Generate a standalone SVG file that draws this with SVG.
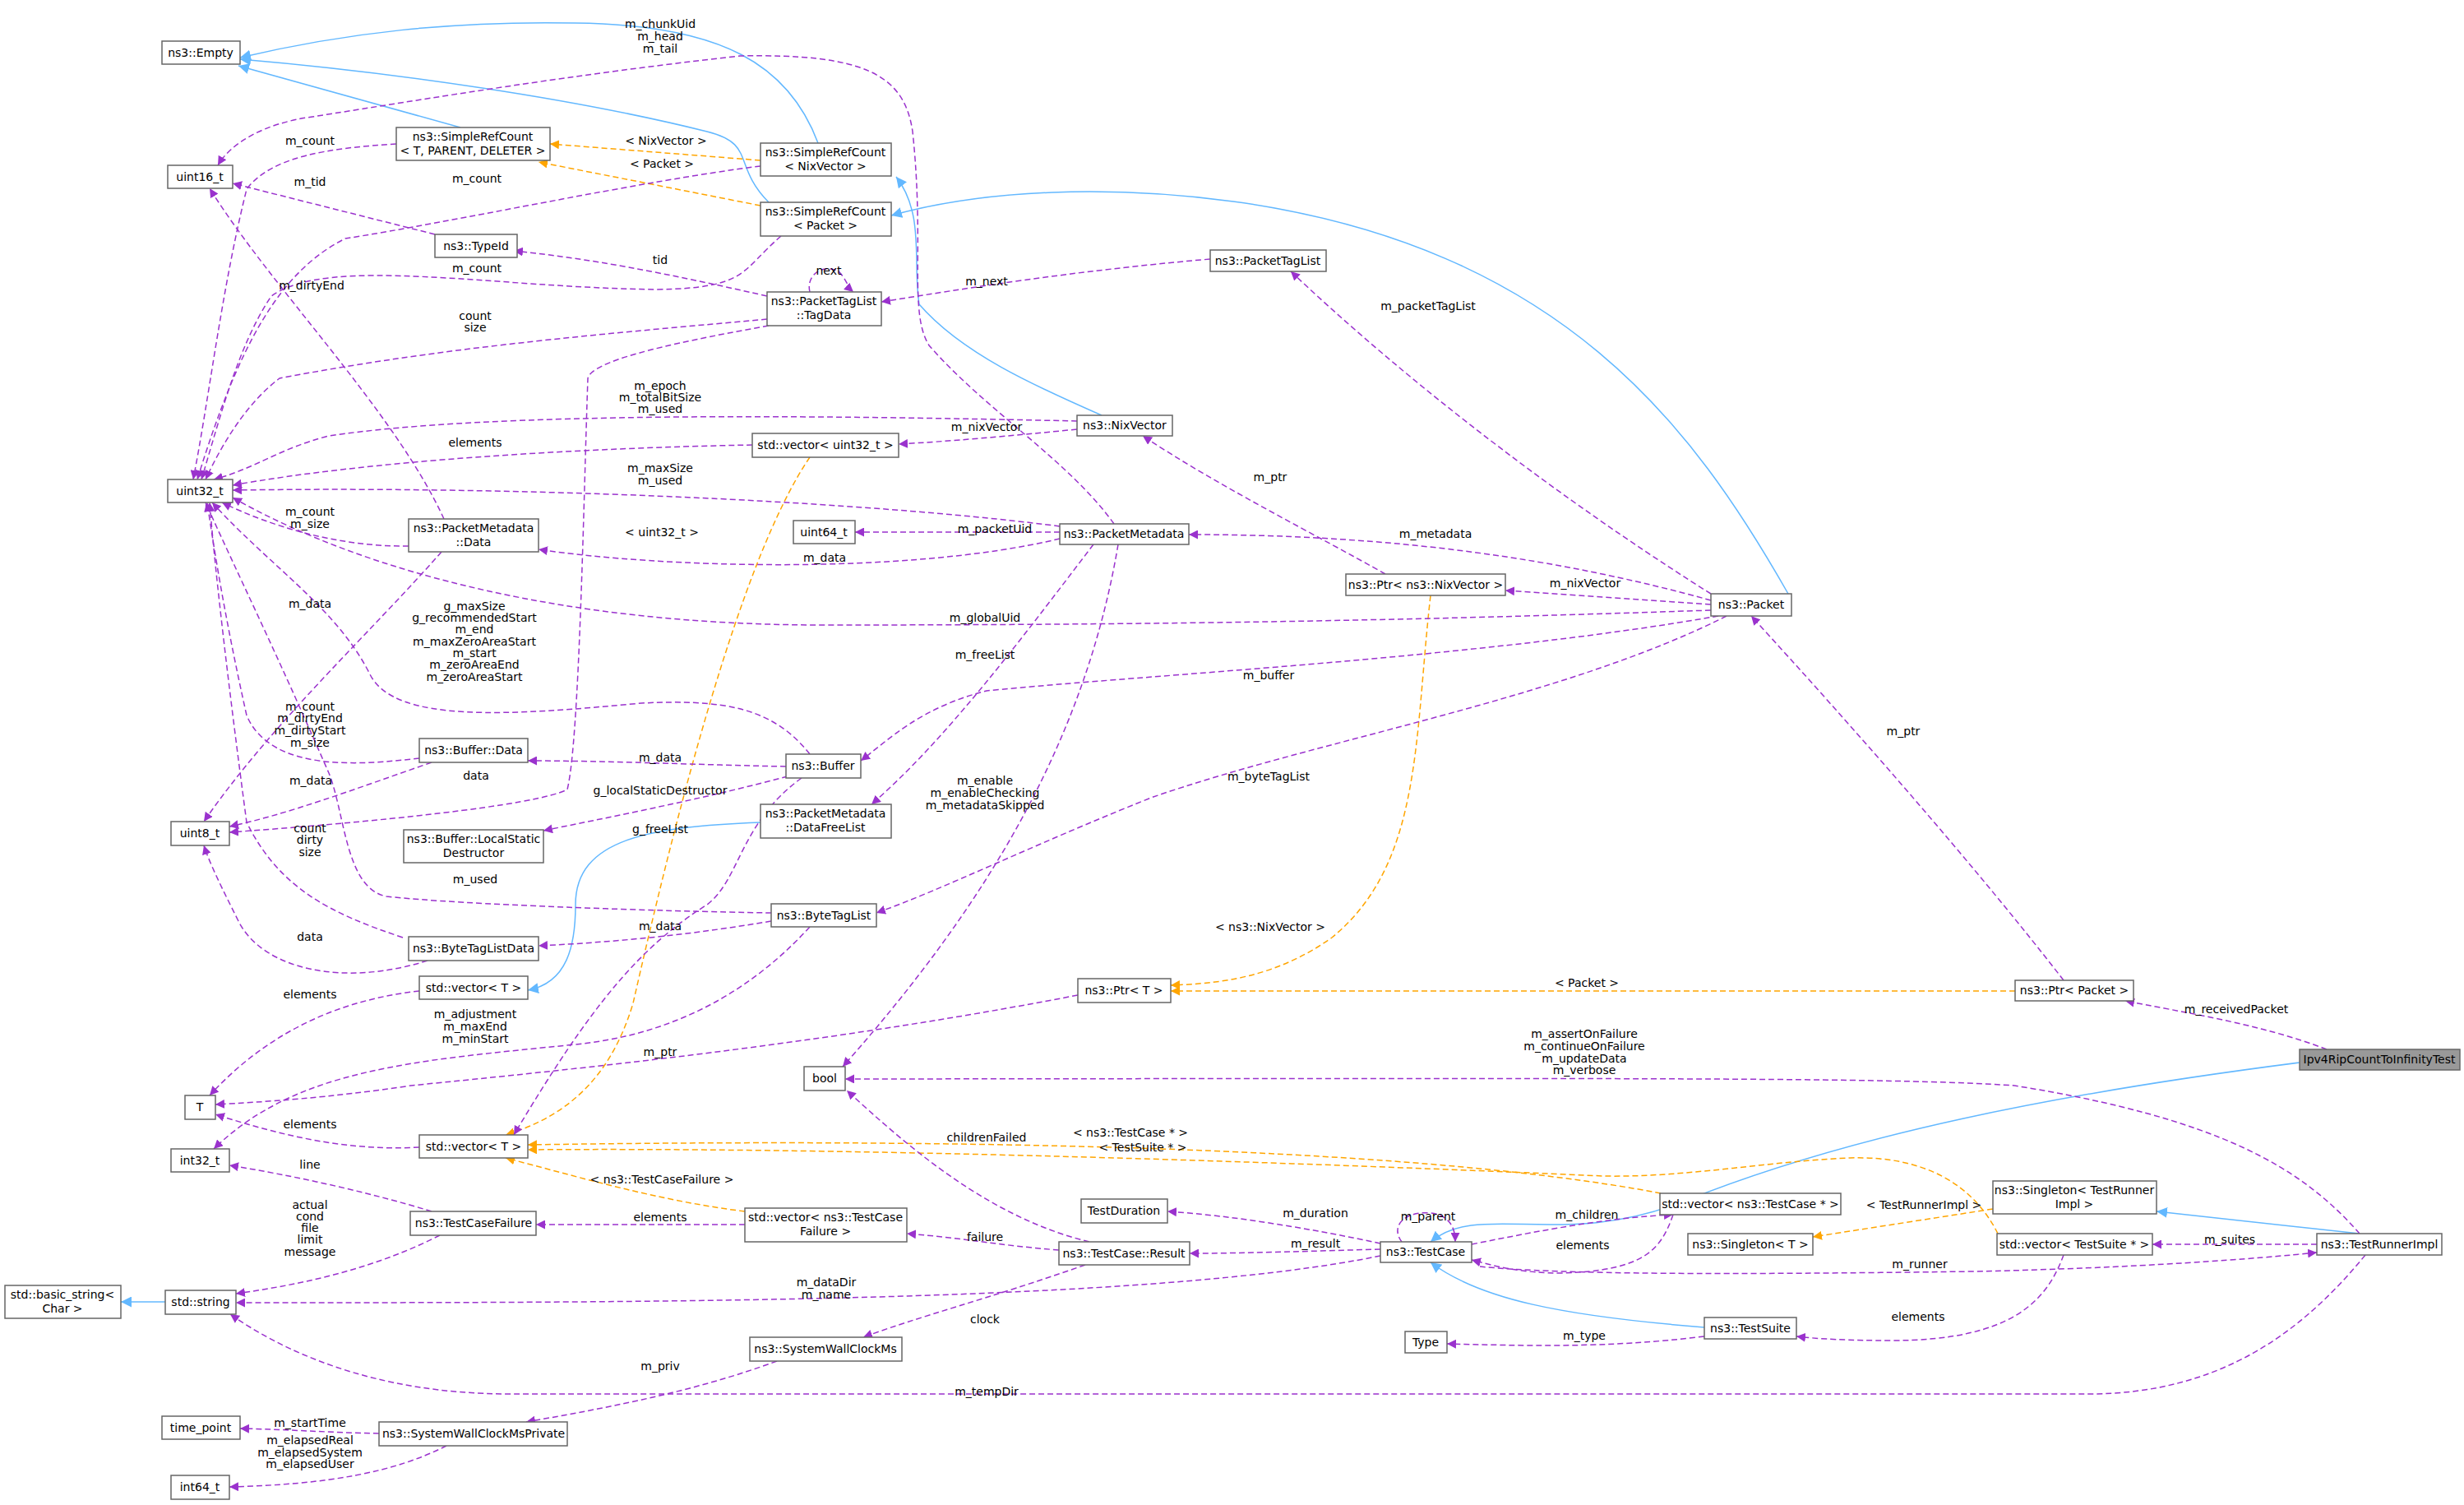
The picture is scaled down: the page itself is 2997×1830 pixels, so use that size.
<svg xmlns="http://www.w3.org/2000/svg" width="2997" height="1830" viewBox="0 0 2997 1830">
<style>
text{font-family:"DejaVu Sans",sans-serif;font-size:14px;fill:#000;text-anchor:middle}
.n rect{fill:#fff;stroke:#666;stroke-width:1.5}
.m rect{fill:#999;stroke:#666;stroke-width:1.5}
.p{fill:none;stroke:#9a32cd;stroke-width:1.5;stroke-dasharray:7,4;marker-end:url(#ap)}
.o{fill:none;stroke:#ffa500;stroke-width:1.5;stroke-dasharray:7,4;marker-end:url(#ao)}
.b{fill:none;stroke:#63b8ff;stroke-width:1.5;marker-end:url(#ab)}
.l{font-size:13.5px}
</style>
<defs>
<marker id="ap" viewBox="0 0 10 10" refX="10" refY="5" markerWidth="11" markerHeight="11" markerUnits="userSpaceOnUse" orient="auto"><path d="M0,0L10,5L0,10z" fill="#9a32cd"/></marker>
<marker id="ao" viewBox="0 0 10 10" refX="10" refY="5" markerWidth="11" markerHeight="11" markerUnits="userSpaceOnUse" orient="auto"><path d="M0,0L10,5L0,10z" fill="#ffa500"/></marker>
<marker id="ab" viewBox="0 0 10 10" refX="10" refY="5" markerWidth="13" markerHeight="13" markerUnits="userSpaceOnUse" orient="auto"><path d="M0,0L10,5L0,10z" fill="#63b8ff"/></marker>
</defs>
<rect width="2997" height="1830" fill="#fff"/>
<g id="edges">
<path class="b" d="M560,155 L290,80"/>
<path class="b" d="M995,174 C960,80 880,30 700,28 C550,25 420,40 292,70"/>
<path class="b" d="M935,246 C890,200 920,175 860,160 C700,120 480,88 292,72"/>
<path class="b" d="M1340,505 C1260,470 1170,430 1118,370 C1110,320 1125,260 1090,215"/>
<path class="b" d="M2175,722 C2060,520 1900,300 1500,245 C1350,225 1200,230 1084,262"/>
<path class="b" d="M925,1000 C790,1005 700,1020 700,1100 C700,1150 690,1195 642,1204"/>
<path class="b" d="M201,1583 L147,1583"/>
<path class="b" d="M2797,1292 C2500,1330 2250,1380 2050,1460 C1900,1520 1800,1460 1740,1510"/>
<path class="b" d="M2073,1614 C1900,1600 1800,1580 1740,1535"/>
<path class="b" d="M2870,1500 L2623,1473"/>
<path class="o" d="M925,195 L669,175"/>
<path class="o" d="M925,250 L655,197"/>
<path class="o" d="M985,556 C900,680 820,1000 770,1220 C740,1320 680,1360 615,1380"/>
<path class="o" d="M906,1473 C800,1460 700,1430 615,1408"/>
<path class="o" d="M2020,1451 C1700,1390 1100,1385 642,1392"/>
<path class="o" d="M2430,1500 C2400,1440 2340,1405 2250,1408 C2150,1412 2050,1432 1950,1430 C1500,1410 1000,1395 642,1398"/>
<path class="o" d="M1740,724 C1720,900 1730,1050 1620,1140 C1550,1190 1480,1196 1424,1198"/>
<path class="o" d="M2451,1205 L1424,1205"/>
<path class="o" d="M2424,1470 L2205,1504"/>
<path class="p" d="M1355,637 C1300,560 1200,500 1130,420 C1105,380 1125,300 1110,160 C1100,90 1050,65 900,68 C700,90 520,120 380,142 C320,150 280,175 265,201"/>
<path class="p" d="M482,175 C400,180 330,190 300,230 C270,350 255,480 235,583"/>
<path class="p" d="M925,202 C780,220 550,270 420,290 C340,330 290,420 240,583"/>
<path class="p" d="M950,287 C900,330 910,350 800,352 C600,350 400,310 330,360 C290,420 270,500 245,583"/>
<path class="p" d="M529,285 L283,223"/>
<path class="p" d="M933,360 C800,330 720,315 625,305"/>
<path class="p" d="M985,355 C980,335 1000,320 1020,330 C1030,340 1030,348 1038,355" />
<path class="p" d="M1472,315 C1300,330 1180,350 1072,367"/>
<path class="p" d="M933,388 C750,405 550,420 340,460 C300,490 270,540 250,583"/>
<path class="p" d="M935,396 C800,420 720,440 715,460 C710,600 705,900 690,960 C650,980 450,1000 279,1012"/>
<path class="p" d="M1310,512 C1000,505 600,500 400,530 C340,545 310,570 260,583"/>
<path class="p" d="M1310,522 C1230,530 1150,537 1093,540"/>
<path class="p" d="M915,541 C700,545 450,560 283,590"/>
<path class="p" d="M1289,640 C1100,615 700,590 283,596"/>
<path class="p" d="M1289,647 L1040,647"/>
<path class="p" d="M1289,655 C1100,700 800,690 655,668"/>
<path class="p" d="M497,664 C410,665 330,640 270,611"/>
<path class="p" d="M537,671 C450,770 330,880 248,999"/>
<path class="p" d="M540,631 C480,500 330,350 255,229"/>
<path class="p" d="M985,917 C940,860 880,850 780,855 C620,870 480,880 450,820 C410,740 330,690 258,611"/>
<path class="p" d="M956,932 C850,930 740,925 642,925"/>
<path class="p" d="M510,922 C440,930 330,940 300,870 C280,780 265,700 252,611"/>
<path class="p" d="M525,927 C430,960 350,990 279,1005"/>
<path class="p" d="M958,944 C860,970 760,990 661,1010"/>
<path class="p" d="M975,946 C900,1000 900,1070 860,1100 C780,1150 720,1220 625,1380"/>
<path class="p" d="M1330,662 C1240,780 1150,900 1060,978"/>
<path class="p" d="M1360,662 C1320,900 1200,1100 1025,1297"/>
<path class="p" d="M2081,730 C1900,680 1700,650 1446,650"/>
<path class="p" d="M2081,735 L1831,718"/>
<path class="p" d="M2081,722 C1950,640 1750,500 1570,330"/>
<path class="p" d="M1685,698 C1600,650 1480,590 1390,530"/>
<path class="p" d="M2081,742 C1700,755 1400,760 1000,760 C700,760 450,700 283,605"/>
<path class="p" d="M2090,749 C1800,800 1400,820 1200,840 C1120,860 1080,900 1047,925"/>
<path class="p" d="M2100,749 C1900,850 1600,900 1400,970 C1250,1030 1150,1080 1066,1110"/>
<path class="p" d="M938,1110 C800,1108 560,1100 470,1090 C420,1080 420,990 400,940 C330,780 290,700 250,611"/>
<path class="p" d="M938,1120 C850,1135 760,1145 655,1150"/>
<path class="p" d="M985,1127 C900,1220 800,1260 700,1270 C500,1290 360,1300 260,1397"/>
<path class="p" d="M520,1168 C420,1200 320,1180 290,1120 C270,1080 255,1050 248,1028"/>
<path class="p" d="M490,1140 C400,1110 340,1080 300,1000 C280,850 262,700 255,611"/>
<path class="p" d="M510,1205 C420,1215 330,1250 255,1332"/>
<path class="p" d="M1311,1210 C1000,1270 700,1300 500,1320 C400,1335 320,1340 262,1343"/>
<path class="p" d="M510,1395 C420,1400 340,1380 262,1355"/>
<path class="p" d="M525,1473 C450,1450 360,1430 279,1417"/>
<path class="p" d="M535,1502 C460,1540 380,1560 287,1573"/>
<path class="p" d="M906,1489 L652,1489"/>
<path class="p" d="M1288,1520 C1220,1515 1170,1505 1103,1500"/>
<path class="p" d="M1325,1510 C1200,1480 1100,1390 1030,1326"/>
<path class="p" d="M1320,1538 C1200,1580 1120,1600 1050,1626"/>
<path class="p" d="M945,1655 C850,1690 750,1710 640,1729"/>
<path class="p" d="M461,1743 C400,1742 350,1738 292,1737"/>
<path class="p" d="M543,1758 C480,1790 400,1805 279,1808"/>
<path class="p" d="M1679,1527 C1400,1584 800,1584 287,1584"/>
<path class="p" d="M1679,1519 C1600,1521 1520,1524 1447,1524"/>
<path class="p" d="M1679,1512 C1600,1495 1500,1478 1420,1473"/>
<path class="p" d="M1705,1510 C1690,1490 1710,1472 1740,1475 C1765,1478 1770,1495 1770,1510"/>
<path class="p" d="M1790,1513 C1880,1495 1960,1480 2035,1477"/>
<path class="p" d="M2035,1477 C2020,1520 2000,1545 1900,1548 C1850,1548 1820,1540 1790,1532"/>
<path class="p" d="M1800,1540 C1900,1550 2100,1550 2400,1546 C2600,1542 2750,1530 2818,1523"/>
<path class="p" d="M2818,1513 L2618,1513"/>
<path class="p" d="M2510,1526 C2490,1580 2450,1630 2300,1630 C2250,1630 2210,1628 2185,1625"/>
<path class="p" d="M2073,1625 C1950,1640 1850,1636 1760,1634"/>
<path class="p" d="M2870,1500 C2800,1420 2700,1360 2450,1320 C2300,1310 2000,1311 1028,1312"/>
<path class="p" d="M2877,1526 C2800,1620 2700,1695 2540,1695 C2000,1695 1200,1695 620,1695 C450,1695 340,1640 280,1598"/>
<path class="p" d="M2830,1276 C2750,1245 2650,1230 2585,1217"/>
<path class="p" d="M2510,1192 C2400,1050 2250,880 2130,749"/>
</g>
<g class="l">
<text x="803" y="34">m_chunkUid</text><text x="803" y="49">m_head</text><text x="803" y="64">m_tail</text>
<text x="377" y="176">m_count</text>
<text x="580" y="222">m_count</text>
<text x="580" y="331">m_count</text>
<text x="377" y="226">m_tid</text>
<text x="803" y="321">tid</text>
<text x="1008" y="334">next</text>
<text x="1200" y="347">m_next</text>
<text x="578" y="389">count</text><text x="578" y="403">size</text>
<text x="579" y="948">data</text>
<text x="803" y="474">m_epoch</text><text x="803" y="488">m_totalBitSize</text><text x="803" y="502">m_used</text>
<text x="1200" y="524">m_nixVector</text>
<text x="578" y="543">elements</text>
<text x="803" y="574">m_maxSize</text><text x="803" y="589">m_used</text>
<text x="1210" y="648">m_packetUid</text>
<text x="1003" y="683">m_data</text>
<text x="805" y="652">&lt; uint32_t &gt;</text>
<text x="377" y="627">m_count</text><text x="377" y="642">m_size</text>
<text x="377" y="739">m_data</text>
<text x="379" y="352">m_dirtyEnd</text>
<text x="577" y="742">g_maxSize</text><text x="577" y="756">g_recommendedStart</text><text x="577" y="770">m_end</text><text x="577" y="785">m_maxZeroAreaStart</text><text x="577" y="799">m_start</text><text x="577" y="813">m_zeroAreaEnd</text><text x="577" y="828">m_zeroAreaStart</text>
<text x="803" y="926">m_data</text>
<text x="377" y="864">m_count</text><text x="377" y="878">m_dirtyEnd</text><text x="377" y="893">m_dirtyStart</text><text x="377" y="908">m_size</text>
<text x="378" y="954">m_data</text>
<text x="803" y="966">g_localStaticDestructor</text>
<text x="803" y="1013">g_freeList</text>
<text x="1198" y="801">m_freeList</text>
<text x="1198" y="954">m_enable</text><text x="1198" y="969">m_enableChecking</text><text x="1198" y="984">m_metadataSkipped</text>
<text x="1746" y="654">m_metadata</text>
<text x="1928" y="714">m_nixVector</text>
<text x="1737" y="377">m_packetTagList</text>
<text x="1545" y="585">m_ptr</text>
<text x="1198" y="756">m_globalUid</text>
<text x="1543" y="826">m_buffer</text>
<text x="1543" y="949">m_byteTagList</text>
<text x="578" y="1074">m_used</text>
<text x="803" y="1131">m_data</text>
<text x="578" y="1238">m_adjustment</text><text x="578" y="1253">m_maxEnd</text><text x="578" y="1268">m_minStart</text>
<text x="377" y="1144">data</text>
<text x="377" y="1012">count</text><text x="377" y="1026">dirty</text><text x="377" y="1041">size</text>
<text x="377" y="1214">elements</text>
<text x="803" y="1284">m_ptr</text>
<text x="377" y="1372">elements</text>
<text x="377" y="1421">line</text>
<text x="377" y="1470">actual</text><text x="377" y="1484">cond</text><text x="377" y="1498">file</text><text x="377" y="1512">limit</text><text x="377" y="1527">message</text>
<text x="803" y="1485">elements</text>
<text x="1198" y="1509">failure</text>
<text x="1200" y="1388">childrenFailed</text>
<text x="1198" y="1609">clock</text>
<text x="803" y="1666">m_priv</text>
<text x="377" y="1735">m_startTime</text>
<text x="377" y="1756">m_elapsedReal</text><text x="377" y="1771">m_elapsedSystem</text><text x="377" y="1785">m_elapsedUser</text>
<text x="1005" y="1564">m_dataDir</text><text x="1005" y="1579">m_name</text>
<text x="1600" y="1517">m_result</text>
<text x="1600" y="1480">m_duration</text>
<text x="1737" y="1484">m_parent</text>
<text x="1930" y="1482">m_children</text>
<text x="1925" y="1519">elements</text>
<text x="2335" y="1542">m_runner</text>
<text x="2712" y="1512">m_suites</text>
<text x="2333" y="1606">elements</text>
<text x="1927" y="1629">m_type</text>
<text x="1927" y="1262">m_assertOnFailure</text><text x="1927" y="1277">m_continueOnFailure</text><text x="1927" y="1292">m_updateData</text><text x="1927" y="1306">m_verbose</text>
<text x="1200" y="1697">m_tempDir</text>
<text x="2720" y="1232">m_receivedPacket</text>
<text x="2315" y="894">m_ptr</text>
<text x="810" y="176">&lt; NixVector &gt;</text>
<text x="805" y="204">&lt; Packet &gt;</text>
<text x="805" y="1439">&lt; ns3::TestCaseFailure &gt;</text>
<text x="1375" y="1382">&lt; ns3::TestCase * &gt;</text>
<text x="1390" y="1400">&lt; TestSuite * &gt;</text>
<text x="1545" y="1132">&lt; ns3::NixVector &gt;</text>
<text x="1930" y="1200">&lt; Packet &gt;</text>
<text x="2340" y="1470">&lt; TestRunnerImpl &gt;</text>
</g>
<g id="n_empty" class="n"><rect x="197" y="50" width="95" height="28"/><text x="244" y="69">ns3::Empty</text></g>
<g id="n_u16" class="n"><rect x="204" y="201" width="79" height="28"/><text x="243" y="220">uint16_t</text></g>
<g id="n_u32" class="n"><rect x="204" y="583" width="79" height="28"/><text x="243" y="602">uint32_t</text></g>
<g id="n_u8" class="n"><rect x="208" y="999" width="71" height="29"/><text x="243" y="1018">uint8_t</text></g>
<g id="n_T" class="n"><rect x="225" y="1332" width="37" height="29"/><text x="243" y="1351">T</text></g>
<g id="n_i32" class="n"><rect x="208" y="1397" width="71" height="28"/><text x="243" y="1416">int32_t</text></g>
<g id="n_bstr" class="n"><rect x="6" y="1563" width="141" height="40"/><text x="76" y="1579">std::basic_string&lt;</text><text x="76" y="1596">Char &gt;</text></g>
<g id="n_str" class="n"><rect x="201" y="1569" width="86" height="29"/><text x="244" y="1588">std::string</text></g>
<g id="n_tp" class="n"><rect x="197" y="1722" width="95" height="28"/><text x="244" y="1741">time_point</text></g>
<g id="n_i64" class="n"><rect x="208" y="1794" width="71" height="29"/><text x="243" y="1813">int64_t</text></g>
<g id="n_srcT" class="n"><rect x="482" y="155" width="187" height="40"/><text x="575" y="171">ns3::SimpleRefCount</text><text x="575" y="188">&lt; T, PARENT, DELETER &gt;</text></g>
<g id="n_typeid" class="n"><rect x="529" y="285" width="100" height="28"/><text x="579" y="304">ns3::TypeId</text></g>
<g id="n_pmdata" class="n"><rect x="497" y="631" width="158" height="40"/><text x="576" y="647">ns3::PacketMetadata</text><text x="576" y="664">::Data</text></g>
<g id="n_bufdata" class="n"><rect x="510" y="898" width="132" height="29"/><text x="576" y="917">ns3::Buffer::Data</text></g>
<g id="n_lsd" class="n"><rect x="491" y="1009" width="170" height="40"/><text x="576" y="1025">ns3::Buffer::LocalStatic</text><text x="576" y="1042">Destructor</text></g>
<g id="n_btld" class="n"><rect x="497" y="1139" width="158" height="29"/><text x="576" y="1158">ns3::ByteTagListData</text></g>
<g id="n_vecT1" class="n"><rect x="510" y="1187" width="132" height="28"/><text x="576" y="1206">std::vector&lt; T &gt;</text></g>
<g id="n_vecT2" class="n"><rect x="510" y="1380" width="132" height="28"/><text x="576" y="1399">std::vector&lt; T &gt;</text></g>
<g id="n_tcf" class="n"><rect x="499" y="1473" width="153" height="29"/><text x="576" y="1492">ns3::TestCaseFailure</text></g>
<g id="n_swcmp" class="n"><rect x="461" y="1729" width="229" height="29"/><text x="576" y="1748">ns3::SystemWallClockMsPrivate</text></g>
<g id="n_srcNix" class="n"><rect x="925" y="174" width="159" height="40"/><text x="1004" y="190">ns3::SimpleRefCount</text><text x="1004" y="207">&lt; NixVector &gt;</text></g>
<g id="n_srcPkt" class="n"><rect x="925" y="246" width="159" height="41"/><text x="1004" y="262">ns3::SimpleRefCount</text><text x="1004" y="279">&lt; Packet &gt;</text></g>
<g id="n_tagdata" class="n"><rect x="933" y="355" width="139" height="41"/><text x="1002" y="371">ns3::PacketTagList</text><text x="1002" y="388">::TagData</text></g>
<g id="n_vecu32" class="n"><rect x="915" y="527" width="178" height="29"/><text x="1004" y="546">std::vector&lt; uint32_t &gt;</text></g>
<g id="n_u64" class="n"><rect x="965" y="633" width="75" height="28"/><text x="1002" y="652">uint64_t</text></g>
<g id="n_buffer" class="n"><rect x="956" y="917" width="91" height="29"/><text x="1001" y="936">ns3::Buffer</text></g>
<g id="n_dfl" class="n"><rect x="925" y="978" width="159" height="41"/><text x="1004" y="994">ns3::PacketMetadata</text><text x="1004" y="1011">::DataFreeList</text></g>
<g id="n_btl" class="n"><rect x="938" y="1099" width="128" height="28"/><text x="1002" y="1118">ns3::ByteTagList</text></g>
<g id="n_bool" class="n"><rect x="978" y="1297" width="50" height="29"/><text x="1003" y="1316">bool</text></g>
<g id="n_vectcf" class="n"><rect x="906" y="1469" width="197" height="41"/><text x="1004" y="1485">std::vector&lt; ns3::TestCase</text><text x="1004" y="1502">Failure &gt;</text></g>
<g id="n_swcm" class="n"><rect x="912" y="1626" width="185" height="29"/><text x="1004" y="1645">ns3::SystemWallClockMs</text></g>
<g id="n_ptl" class="n"><rect x="1472" y="304" width="141" height="26"/><text x="1542" y="322">ns3::PacketTagList</text></g>
<g id="n_nix" class="n"><rect x="1310" y="505" width="116" height="25"/><text x="1368" y="522">ns3::NixVector</text></g>
<g id="n_pm" class="n"><rect x="1289" y="637" width="157" height="25"/><text x="1367" y="654">ns3::PacketMetadata</text></g>
<g id="n_ptrnix" class="n"><rect x="1637" y="698" width="194" height="26"/><text x="1734" y="716">ns3::Ptr&lt; ns3::NixVector &gt;</text></g>
<g id="n_packet" class="n"><rect x="2081" y="722" width="98" height="27"/><text x="2130" y="740">ns3::Packet</text></g>
<g id="n_ptrT" class="n"><rect x="1311" y="1190" width="113" height="29"/><text x="1367" y="1209">ns3::Ptr&lt; T &gt;</text></g>
<g id="n_ptrpkt" class="n"><rect x="2451" y="1192" width="144" height="25"/><text x="2523" y="1209">ns3::Ptr&lt; Packet &gt;</text></g>
<g id="n_main" class="m"><rect x="2797" y="1276" width="195" height="25"/><text x="2894" y="1293">Ipv4RipCountToInfinityTest</text></g>
<g id="n_tc" class="n"><rect x="1679" y="1510" width="111" height="25"/><text x="1734" y="1527">ns3::TestCase</text></g>
<g id="n_vectc" class="n"><rect x="2019" y="1451" width="220" height="26"/><text x="2129" y="1469">std::vector&lt; ns3::TestCase * &gt;</text></g>
<g id="n_singT" class="n"><rect x="2053" y="1500" width="152" height="26"/><text x="2129" y="1518">ns3::Singleton&lt; T &gt;</text></g>
<g id="n_singTR" class="n"><rect x="2424" y="1436" width="199" height="40"/><text x="2523" y="1452">ns3::Singleton&lt; TestRunner</text><text x="2523" y="1469">Impl &gt;</text></g>
<g id="n_vects" class="n"><rect x="2429" y="1500" width="189" height="26"/><text x="2523" y="1518">std::vector&lt; TestSuite * &gt;</text></g>
<g id="n_tri" class="n"><rect x="2818" y="1500" width="152" height="26"/><text x="2894" y="1518">ns3::TestRunnerImpl</text></g>
<g id="n_ts" class="n"><rect x="2073" y="1602" width="112" height="26"/><text x="2129" y="1620">ns3::TestSuite</text></g>
<g id="n_type" class="n"><rect x="1709" y="1619" width="51" height="26"/><text x="1734" y="1637">Type</text></g>
<g id="n_td" class="n"><rect x="1315" y="1458" width="105" height="29"/><text x="1367" y="1477">TestDuration</text></g>
<g id="n_tcr" class="n"><rect x="1288" y="1510" width="159" height="28"/><text x="1367" y="1529">ns3::TestCase::Result</text></g>
</svg>
